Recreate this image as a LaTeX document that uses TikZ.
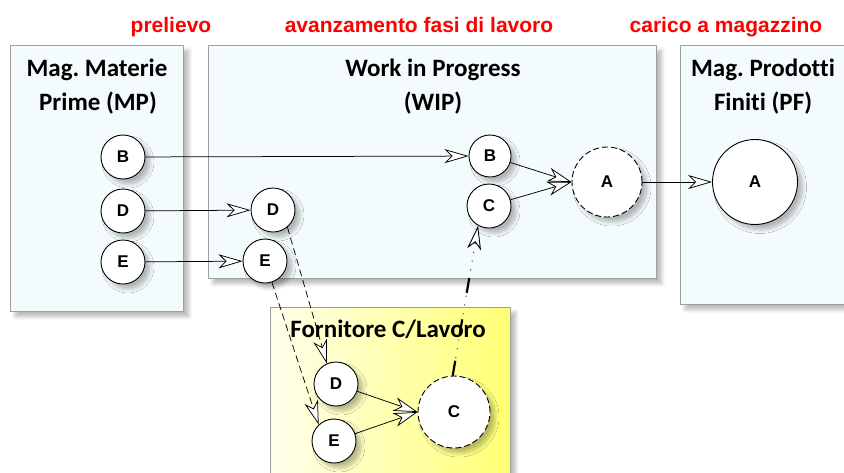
\documentclass[tikz,border=0pt]{standalone}
\usepackage{fontspec}
\setmainfont{Carlito}[Ligatures=NoCommon]
\newfontfamily\arialf{Liberation Sans}
\usetikzlibrary{arrows.meta,shadows.blur}
\frenchspacing
\definecolor{boxfill}{RGB}{244,251,253}
\definecolor{boxline}{RGB}{160,160,160}
\definecolor{yeldark}{RGB}{255,255,115}
\definecolor{yellight}{RGB}{255,255,236}
\tikzset{
  shad/.style={blur shadow={shadow xshift=5pt, shadow yshift=-5pt, shadow opacity=28, shadow blur steps=8, shadow blur radius=4pt}},
  area/.style={draw=boxline, line width=0.8pt, fill=boxfill, shad},
  yarea/.style={draw=boxline, line width=0.8pt, left color=yellight, right color=yeldark, shad},
  obj/.style={circle, draw, line width=0.9pt, fill=white, minimum size=44pt, inner sep=0pt,
    font=\arialf\bfseries\fontsize{17}{17}\selectfont, shad},
  dashedobj/.style={obj, dash pattern=on 6pt off 3pt},
  ttl/.style={anchor=base, font=\bfseries\fontsize{25}{25}\selectfont, inner sep=0pt},
  redlbl/.style={anchor=base, text=red, font=\arialf\bfseries\fontsize{21}{21}\selectfont, inner sep=0pt},
  tip/.style={-{Stealth[length=24pt,width=14pt,inset=7pt,fill=white]}},
  flow/.style={line width=0.75pt, tip},
  dflow/.style={flow, dash pattern=on 7pt off 4pt},
}
\begin{document}
\begin{tikzpicture}[x=1pt,y=1pt]
\useasboundingbox (0,0) rectangle (844,-472);
\clip (0,0) rectangle (844,-472);
% areas
\node[area, anchor=north west, minimum width=173pt, minimum height=266pt, inner sep=0pt] (mp) at (10,-45) {};
\node[area, anchor=north west, minimum width=448pt, minimum height=233pt, inner sep=0pt] (wip) at (208,-45) {};
\node[area, anchor=north west, minimum width=180pt, minimum height=259pt, inner sep=0pt] (pf) at (680,-45) {};
\node[yarea, anchor=north west, minimum width=240pt, minimum height=180pt, inner sep=0pt] (forn) at (270,-307) {};
% titles
\node[ttl] (t1) at (97,-76) {Mag. Materie};
\node[ttl] (t2) at (98,-110) {Prime (MP)};
\node[ttl] (t3) at (433,-76) {Work in Progress};
\node[ttl] (t4) at (433,-110) {(WIP)};
\node[ttl] (t5) at (763,-76) {Mag. Prodotti};
\node[ttl] (t6) at (763,-110) {Finiti (PF)};
\node[ttl] (t7) at (388,-337) {Fornitore C/Lavoro};
% red labels
\node[redlbl] (r1) at (171,-32) {prelievo};
\node[redlbl] (r2) at (419,-32) {avanzamento fasi di lavoro};
\node[redlbl] (r3) at (726,-32) {carico a magazzino};
% objects
\node[obj] (mB) at (123,-157) {B};
\node[obj] (mD) at (123,-211) {D};
\node[obj] (mE) at (123,-262) {E};
\node[obj] (wD) at (273,-210) {D};
\node[obj] (wE) at (265,-261) {E};
\node[obj, minimum size=42pt] (wB) at (490,-156) {B};
\node[obj] (wC) at (489,-206) {C};
\node[dashedobj, minimum size=70pt] (wA) at (607,-182) {A};
\node[obj, minimum size=85pt] (pA) at (755,-182) {A};
\node[obj] (fD) at (336,-384) {D};
\node[obj] (fE) at (334,-441) {E};
\node[dashedobj, minimum size=72pt] (fC) at (454,-412) {C};
% connectors
\draw[flow] (mB) -- (wB);
\draw[flow] (mD) -- (wD);
\draw[flow] (mE) -- (wE);
\draw[flow] (wB) -- (wA.west);
\draw[flow] (wC) -- (wA.west);
\draw[flow] (wA) -- (pA);
\draw[flow] (fD) -- (fC.west);
\draw[flow] (fE) -- (fC.west);
\draw[dflow] (wD.-50) -- (fD.114);
\draw[dflow] (wE.-72) -- (fE.133);
\draw[line width=0.9pt, dash pattern=on 0.9pt off 8pt, tip] (fC.92) -- (wC.241);
\draw[line width=2.2pt, dash pattern=on 15pt off 27pt, shorten >=30pt] (fC.92) -- (wC.241);
\end{tikzpicture}
\end{document}
